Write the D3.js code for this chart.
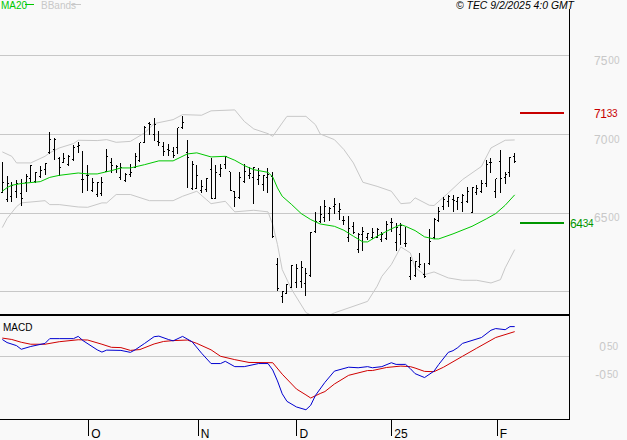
<!DOCTYPE html>
<html>
<head>
<meta charset="utf-8">
<script src="https://cdn.jsdelivr.net/npm/d3@7"></script>
<style>
  html, body { margin: 0; padding: 0; background: #f9f9f9; overflow: hidden; }
  svg { display: block; font-family: "Liberation Sans", Arial, sans-serif; }
  .crisp line, .crisp path { shape-rendering: crispEdges; }
  .domain { display: none; }
</style>
</head>
<body>
<div id="chart"></div>
<script>
// daily bars
var highs = [6824,6735,6697,6710,6716,6748,6805,6761,6799,6818,7012,6977,6856,6881,6869,6932,6951,6894,6805,6723,6697,6729,6907,6850,6805,6818,6754,6812,6881,6945,7053,7079,7104,7021,6951,6939,6920,7040,7117,6964,6831,6805,6710,6723,6850,6805,6812,6862,6761,6640,6761,6812,6792,6792,6786,6742,6786,6761,6214,6004,6049,6170,6176,6195,6151,6379,6507,6545,6583,6538,6596,6564,6481,6481,6443,6373,6411,6373,6405,6405,6379,6449,6468,6437,6437,6411,6221,6195,6246,6183,6398,6468,6538,6602,6615,6615,6602,6621,6665,6659,6678,6710,6837,6850,6716,6901,6761,6856,6881];
var lows = [6627,6570,6570,6596,6545,6633,6697,6691,6723,6742,6875,6837,6735,6818,6799,6831,6881,6627,6640,6633,6602,6608,6761,6754,6754,6710,6697,6729,6786,6824,6945,6996,6958,6926,6862,6862,6850,6875,7034,6659,6646,6653,6627,6633,6589,6589,6729,6780,6640,6538,6589,6691,6716,6557,6678,6640,6627,6341,6004,5928,5985,6023,6023,6023,5973,6093,6373,6437,6443,6449,6494,6456,6424,6316,6367,6246,6259,6329,6335,6341,6316,6329,6379,6259,6297,6284,6074,6093,6151,6087,6170,6335,6443,6519,6538,6507,6519,6507,6564,6500,6615,6627,6665,6754,6596,6627,6685,6729,6818];
var opens = [6627,6583,6602,6633,6621,6691,6716,6697,6729,6773,6881,6901,6843,6818,6805,6837,6920,6710,6735,6640,6615,6621,6761,6818,6773,6723,6704,6742,6786,6831,6945,7066,6996,6951,6920,6901,6888,6913,7040,6881,6653,6653,6640,6646,6773,6589,6742,6805,6761,6634,6596,6697,6735,6723,6710,6678,6723,6729,6170,5966,5985,6023,6055,6062,6049,6100,6379,6443,6468,6494,6538,6507,6449,6341,6411,6265,6360,6341,6341,6341,6329,6335,6437,6310,6360,6303,6093,6100,6157,6106,6176,6341,6449,6538,6570,6583,6570,6564,6570,6500,6627,6634,6685,6818,6634,6824,6723,6754,6856];
var closes = [6691,6685,6672,6685,6589,6729,6799,6754,6767,6812,6964,6964,6786,6843,6856,6913,6926,6710,6735,6691,6691,6691,6856,6799,6792,6786,6742,6754,6856,6945,7040,7059,7059,6945,6888,6894,6862,7040,7072,6850,6805,6735,6665,6716,6589,6754,6780,6856,6640,6596,6723,6761,6748,6786,6735,6735,6742,6348,6017,5998,6043,6163,6144,6151,6112,6373,6443,6488,6538,6526,6551,6519,6449,6398,6373,6360,6379,6367,6373,6392,6360,6424,6437,6405,6418,6303,6195,6189,6170,6093,6316,6456,6507,6583,6602,6576,6596,6608,6634,6659,6653,6685,6805,6818,6716,6716,6742,6850,6824];

// indicator lines, read at the bars where they bend
var maBars = [0,1,2,4,8,10,12,16,18,20,23,25,27,30,33,36,39,41,44,47,49,51,53,56,57,58,59,61,63,65,67,70,72,74,76,77,79,82,84,85,87,89,91,92,95,99,102,104,106,108];
var maValues = [6636,6659,6674,6685,6697,6724,6737,6752,6746,6746,6767,6784,6784,6805,6829,6829,6873,6880,6854,6858,6833,6799,6773,6756,6727,6657,6604,6551,6494,6456,6428,6413,6388,6350,6314,6314,6350,6397,6424,6413,6386,6346,6333,6333,6365,6413,6460,6494,6547,6613];
var upperBars = [0,2,3,6,9,10,12,15,16,20,22,24,27,30,32,36,38,42,44,49,51,53,56,57,59,60,64,66,67,70,72,74,76,79,82,84,86,87,90,91,94,97,101,103,106,108];
var upperValues = [6886,6858,6816,6816,6858,6880,6911,6939,6960,6958,6964,6947,6953,7007,7066,7091,7123,7119,7147,7153,7080,7032,7002,6985,7070,7112,7112,7059,7000,6964,6901,6816,6693,6667,6636,6557,6562,6594,6547,6545,6625,6710,6794,6911,6960,6962];
var lowerBars = [0,1,3,4,9,10,12,16,18,21,22,24,27,31,36,38,41,44,47,49,53,56,57,58,59,61,64,67,70,77,79,80,82,84,86,87,89,91,94,97,100,103,105,106,108];
var lowerValues = [6405,6462,6538,6562,6576,6551,6551,6536,6534,6562,6562,6615,6615,6576,6576,6604,6636,6557,6572,6505,6515,6505,6424,6297,6138,6011,5865,5820,5863,5936,6032,6095,6170,6282,6244,6151,6106,6123,6085,6070,6070,6053,6074,6149,6265];
var macdBars = [0,1,3,4,6,9,10,12,15,16,17,20,21,22,25,27,28,30,32,33,35,36,38,40,42,44,46,47,49,51,54,56,57,58,59,60,62,64,65,66,68,70,73,75,77,78,80,82,83,85,86,87,89,91,92,94,95,96,97,101,103,104,106,107,108];
var macdValues = [59,48,37,24,34,45,62,62,62,70,55,22,14,21,20,13,22,45,69,71,59,54,70,51,10,-27,-27,-19,-38,-38,-27,-27,-50,-89,-135,-162,-182,-192,-176,-141,-94,-54,-40,-42,-38,-42,-38,-24,-30,-30,-45,-63,-77,-54,-30,13,19,30,45,66,92,98,94,105,105];
var signalBars = [0,2,4,6,9,12,16,18,21,23,25,27,29,32,34,36,39,41,44,46,49,52,57,59,62,64,65,67,68,70,73,77,78,81,84,86,87,89,91,93,97,100,104,108];
var signalValues = [64,59,49,42,42,51,58,57,42,31,30,20,23,43,52,55,57,45,22,-1,-13,-23,-24,-65,-118,-139,-150,-134,-127,-100,-69,-52,-52,-41,-36,-38,-43,-55,-56,-40,-1,28,66,87];

var priceTicks = [7500, 7000, 6500, 6000];
var priceLabels = [7500, 7000, 6500];
var macdTicks = [50, -50];
var monthBars = [18.1, 41.2, 62, 82, 104.2];
var monthLabels = ["O", "N", "D", "25", "F"];
var levelPrices = [7133, 6434];
var levelColors = ["#c80000", "#009600"];

var grey = "#c8c8c8";
var W = 627, H = 440;
var frameX = 569.5;
var tickLen = 1.5;

var x = d3.scaleLinear().domain([0, 108]).range([2.3, 514.7]);
var y = d3.scaleLinear().domain([6000, 7500]).range([291.3, 55.3]);
var yMacd = d3.scaleLinear().domain([-50, 50]).range([370, 342]);

var svg = d3.select("#chart").append("svg")
    .attr("width", W)
    .attr("height", H);

svg.append("defs").append("clipPath").attr("id", "top-panel")
    .append("rect").attr("x", 0).attr("y", 0).attr("width", 569).attr("height", 314);

var bars = d3.range(highs.length);

// grid lines
svg.append("g").attr("class", "crisp")
    .attr("transform", "translate(569,0)")
    .call(d3.axisLeft(y).tickValues(priceTicks).tickSize(569).tickFormat(""))
    .selectAll("line").attr("stroke", grey);

svg.append("g").attr("class", "crisp")
    .attr("transform", "translate(569,0)")
    .call(d3.axisLeft(yMacd).tickValues([0]).tickSize(569).tickFormat(""))
    .selectAll("line").attr("stroke", grey);

// big digits then small raised ones, like the original labels
function splitLabel(sel, text, color, gap) {
    var cut = text.length - 2;
    sel.text(null).attr("fill", color);
    sel.append("tspan").attr("font-size", 12).text(text.slice(0, cut));
    sel.append("tspan").attr("font-size", 10).attr("dx", gap).attr("dy", -1).text(text.slice(cut));
}

var priceAxis = svg.append("g")
    .attr("transform", "translate(594,6)")
    .call(d3.axisRight(y).tickValues(priceLabels).tickSize(0).tickPadding(0));
priceAxis.selectAll("text").each(function(d) {
    splitLabel(d3.select(this), String(d), grey, 1);
});

var macdAxis = svg.append("g")
    .attr("transform", "translate(606,5)")
    .call(d3.axisLeft(yMacd).tickValues(macdTicks).tickSize(0).tickPadding(0));
macdAxis.selectAll("text").attr("text-anchor", "end").attr("dx", 12).each(function(d) {
    splitLabel(d3.select(this), (d < 0 ? "-0" : "0") + "50", grey, 1);
});

function drawLine(parent, xs, ys, scale, color) {
    var line = d3.line()
        .x(function(d) { return x(d[0]); })
        .y(function(d) { return scale(d[1]); });
    parent.append("path")
        .datum(d3.zip(xs, ys))
        .attr("fill", "none")
        .attr("stroke", color)
        .attr("stroke-width", 1)
        .attr("d", line);
}

// bollinger bands go behind the bars, clipped to the upper panel
var upper = svg.append("g").attr("clip-path", "url(#top-panel)");
drawLine(upper, upperBars, upperValues, y, grey);
drawLine(upper, lowerBars, lowerValues, y, grey);

var ohlc = svg.append("g").attr("class", "crisp");
ohlc.selectAll(".range").data(bars).enter().append("line")
    .attr("class", "range")
    .attr("x1", function(d) { return x(d); })
    .attr("x2", function(d) { return x(d); })
    .attr("y1", function(d) { return y(highs[d]); })
    .attr("y2", function(d) { return y(lows[d]); })
    .attr("stroke", "#000")
    .attr("stroke-width", 1);
ohlc.selectAll(".open").data(bars).enter().append("line")
    .attr("class", "open")
    .attr("x1", function(d) { return x(d) - tickLen; })
    .attr("x2", function(d) { return x(d); })
    .attr("y1", function(d) { return y(opens[d]); })
    .attr("y2", function(d) { return y(opens[d]); })
    .attr("stroke", "#000");
ohlc.selectAll(".close").data(bars).enter().append("line")
    .attr("class", "close")
    .attr("x1", function(d) { return x(d); })
    .attr("x2", function(d) { return x(d) + tickLen; })
    .attr("y1", function(d) { return y(closes[d]); })
    .attr("y2", function(d) { return y(closes[d]); })
    .attr("stroke", "#000");

drawLine(svg, maBars, maValues, y, "#00c800");

// support and resistance levels
var levelLines = svg.append("g").attr("class", "crisp");
levelLines.selectAll("line").data(levelPrices).enter().append("line")
    .attr("x1", x(109.2))
    .attr("x2", x(118.3))
    .attr("y1", function(d) { return y(d); })
    .attr("y2", function(d) { return y(d); })
    .attr("stroke", function(d, i) { return levelColors[i]; })
    .attr("stroke-width", 2.5);

svg.append("g").selectAll("text").data(levelPrices).enter().append("text")
    .attr("x", function(d, i) { return i === 0 ? 594 : 570; })
    .attr("y", function(d) { return y(d) + 5; })
    .attr("letter-spacing", -0.3)
    .each(function(d, i) { splitLabel(d3.select(this), String(d), levelColors[i], 0); });

// macd panel
drawLine(svg, signalBars, signalValues, yMacd, "#d00000");
drawLine(svg, macdBars, macdValues, yMacd, "#0000d0");

// frame
var frame = svg.append("g").attr("class", "crisp");
frame.append("line").attr("x1", frameX).attr("x2", frameX).attr("y1", 9).attr("y2", 419)
    .attr("stroke", "#000");
frame.append("line").attr("x1", 0).attr("x2", 570).attr("y1", 315).attr("y2", 315)
    .attr("stroke", "#000").attr("stroke-width", 2);
frame.append("line").attr("x1", 0).attr("x2", 570).attr("y1", 419).attr("y2", 419)
    .attr("stroke", "#000");

// month axis
var monthAxis = svg.append("g").attr("class", "crisp")
    .attr("transform", "translate(0,419)")
    .call(d3.axisBottom(x).tickValues(monthBars).tickSize(17).tickPadding(0)
        .tickFormat(function(d, i) { return monthLabels[i]; }));
monthAxis.selectAll("line").attr("stroke", "#000");
monthAxis.selectAll("text")
    .attr("text-anchor", "start")
    .attr("x", 2.5)
    .attr("y", 10)
    .attr("font-size", 12)
    .attr("fill", "#000");

// legend and header
svg.append("text").attr("x", 1).attr("y", 9).attr("font-size", 10).attr("fill", "#00c800").text("MA20");
svg.append("line").attr("x1", 25).attr("x2", 34).attr("y1", 4.5).attr("y2", 4.5).attr("stroke", "#00c800");
svg.append("text").attr("x", 41).attr("y", 9).attr("font-size", 10).attr("fill", grey).text("BBands");
svg.append("line").attr("x1", 71).attr("x2", 81).attr("y1", 4.5).attr("y2", 4.5).attr("stroke", grey);
svg.append("text").attr("x", 456).attr("y", 8.5).attr("font-size", 10.4).attr("font-style", "italic")
    .attr("fill", "#000").text("© TEC 9/2/2025 4:0 GMT");
svg.append("text").attr("x", 3).attr("y", 331).attr("font-size", 10).attr("fill", "#000").text("MACD");
</script>
</body>
</html>
